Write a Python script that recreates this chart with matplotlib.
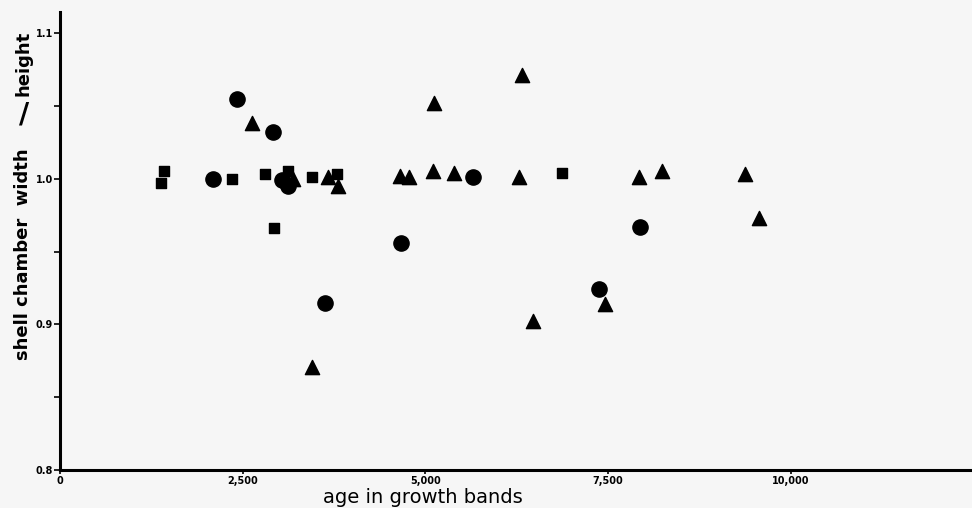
import matplotlib.pyplot as plt
from matplotlib.ticker import FixedLocator

# datos (edad en bandas de crecimiento, ancho/alto de camara)
circ_x = [2420, 2915, 2090, 3035, 3120, 3625, 4665, 5650, 7945, 7385]
circ_y = [1.055, 1.032, 1.000, 0.999, 0.995, 0.915, 0.956, 1.001, 0.967, 0.924]

sq_x = [1380, 1420, 2350, 2805, 3120, 3445, 3790, 2925, 6865]
sq_y = [0.997, 1.005, 1.000, 1.003, 1.005, 1.001, 1.003, 0.966, 1.004]

tri_x = [2625, 3185, 3665, 3800, 6320, 5115, 4650, 4775, 5100, 5390,
         6280, 7930, 8245, 9380, 9575, 7455, 6470, 3445]
tri_y = [1.038, 1.000, 1.001, 0.995, 1.071, 1.052, 1.002, 1.001, 1.005, 1.004,
         1.001, 1.001, 1.005, 1.003, 0.973, 0.914, 0.902, 0.871]

xticks = [0, 2500, 5000, 7500, 10000]
xtick_labels = ['0', '2,500', '5,000', '7,500', '10,000']
yticks = [0.8, 0.9, 1.0, 1.1]
ytick_labels = ['0.8', '0.9', '1.0', '1.1']

fig = plt.figure(figsize=(9.72, 5.08), dpi=100)
fig.patch.set_facecolor('#f6f6f6')
ax = fig.add_axes([0.0617, 0.0748, 0.938, 0.9016])
ax.set_facecolor('#f6f6f6')

ax.scatter(circ_x, circ_y, marker='o', s=120, color='black', zorder=3)
ax.scatter(sq_x, sq_y, marker='s', s=60, color='black', zorder=3)
ax.scatter(tri_x, tri_y, marker='^', s=105, color='black', zorder=3)

ax.set_xlim(0, 12480)
ax.set_ylim(0.8, 1.1145)

for s in ['top', 'right']:
    ax.spines[s].set_visible(False)
for s in ['left', 'bottom']:
    ax.spines[s].set_linewidth(2.2)

ax.set_xticks(xticks)
ax.set_xticklabels(xtick_labels, fontsize=7, fontweight='bold')
ax.set_yticks(yticks)
ax.set_yticklabels(ytick_labels, fontsize=7, fontweight='bold')
ax.yaxis.set_minor_locator(FixedLocator([0.85, 0.95, 1.05]))
ax.tick_params(axis='y', which='both', direction='out', length=4, width=1.2, pad=1)
ax.tick_params(axis='x', which='major', direction='out', length=3, width=1.2, pad=1)

# etiquetas de los ejes
fig.text(0.435, 0.002, 'age in growth bands', fontsize=14, ha='center', va='bottom')
fig.text(0.024, 0.50, 'shell chamber  width', fontsize=13, fontweight='bold',
         rotation=90, ha='center', va='center')
fig.text(0.025, 0.775, '/', fontsize=20, fontweight='bold', rotation=0,
         ha='center', va='center')
fig.text(0.024, 0.875, 'height', fontsize=13, fontweight='bold',
         rotation=90, ha='center', va='center')

fig.savefig('out.png', dpi=100, facecolor=fig.get_facecolor())
